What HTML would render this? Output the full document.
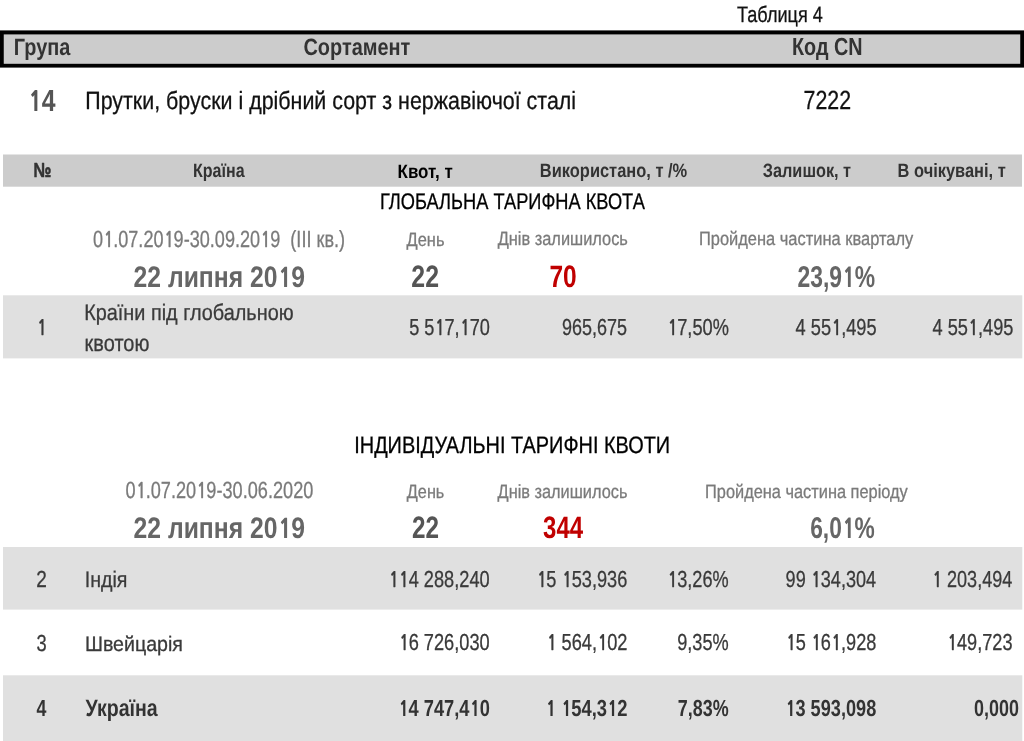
<!DOCTYPE html>
<html lang="uk"><head><meta charset="utf-8"><title>Таблиця 4</title>
<style>
html,body{margin:0;padding:0;background:#fff;}
body{width:1024px;height:741px;overflow:hidden;}
svg{display:block;will-change:transform;}
text{font-family:"Liberation Sans","DejaVu Sans",sans-serif;white-space:pre;text-rendering:geometricPrecision;}
tspan.n,tspan.nb{font-family:"NanumGothic","Liberation Sans",sans-serif;font-weight:700;}
tspan.nb{font-weight:800;}
</style></head><body>
<svg width="1024" height="741" viewBox="0 0 1024 741">
<rect x="0" y="30.4" width="1024" height="37.2" fill="#000"/>
<rect x="3.75" y="34.4" width="1016.5" height="29.4" fill="#cccccc"/>
<rect x="3" y="154.5" width="1019" height="32.2" fill="#cccccc"/>
<rect x="3" y="295.3" width="1019.3" height="63.1" fill="#e0e0e0"/>
<rect x="3" y="547.0" width="1019.3" height="62.6" fill="#e0e0e0"/>
<rect x="3" y="675.3" width="1019.3" height="66" fill="#e0e0e0"/>
<text transform="matrix(0.8099 0 0 1 737.06 21.55)" font-size="22.35" fill="#111" stroke="#111" stroke-width="0.3" stroke-linejoin="round">Таблиця 4</text>
<text transform="matrix(0.8478 0 0 1 13.70 54.90)" font-size="23.49" font-weight="bold" fill="#333">Група</text>
<text transform="matrix(0.8487 0 0 1 303.40 54.90)" font-size="23.49" font-weight="bold" fill="#333">Сортамент</text>
<text transform="matrix(0.8041 0 0 1 792.01 54.60)" font-size="24.60" font-weight="bold" fill="#333">Код CN</text>
<text transform="matrix(0.8083 0 0 1 28.00 111.25)" font-size="30.60" font-weight="bold" fill="#555"><tspan class="nb" font-size="27.13" dx="1.07">1</tspan><tspan dx="-0.50">4</tspan></text>
<text transform="matrix(0.8558 0 0 1 85.31 109.25)" font-size="25.02" fill="#111" stroke="#111" stroke-width="0.3" stroke-linejoin="round">Прутки, бруски і дрібний сорт з нержавіючої сталі</text>
<text transform="matrix(0.8152 0 0 1 803.55 109.15)" font-size="26.20" fill="#111" stroke="#111" stroke-width="0.3" stroke-linejoin="round">7222</text>
<text transform="matrix(0.7900 0 0 1 33.44 177.10)" font-size="20.30" font-weight="bold" fill="#333" stroke="#333" stroke-width="0.6" stroke-linejoin="round">№</text>
<text transform="matrix(0.8276 0 0 1 192.94 177.30)" font-size="19.39" font-weight="bold" fill="#333">Країна</text>
<text transform="matrix(0.8748 0 0 1 397.58 177.50)" font-size="19.39" font-weight="bold" fill="#000">Квот, т</text>
<text transform="matrix(0.8484 0 0 1 539.81 177.40)" font-size="19.39" font-weight="bold" fill="#333">Використано, т /%</text>
<text transform="matrix(0.8404 0 0 1 762.77 177.40)" font-size="19.39" font-weight="bold" fill="#333">Залишок, т</text>
<text transform="matrix(0.8475 0 0 1 897.61 177.30)" font-size="19.39" font-weight="bold" fill="#333">В очікувані, т</text>
<text transform="matrix(0.8053 0 0 1 379.91 209.35)" font-size="22.67" fill="#000" stroke="#000" stroke-width="0.3" stroke-linejoin="round">ГЛОБАЛЬНА ТАРИФНА КВОТА</text>
<text transform="matrix(0.7737 0 0 1 93.08 246.85)" font-size="23.40" fill="#7a7a7a" stroke="#7a7a7a" stroke-width="0.3" stroke-linejoin="round">0<tspan class="n" font-size="21.18" dx="0.82">1</tspan><tspan dx="-0.65">.07.20</tspan><tspan class="n" font-size="21.18" dx="0.82">1</tspan><tspan dx="-0.65">9-30.09.20</tspan><tspan class="n" font-size="21.18" dx="0.82">1</tspan><tspan dx="-0.65">9  (III кв.)</tspan></text>
<text transform="matrix(0.8610 0 0 1 406.52 245.65)" font-size="19.10" fill="#7a7a7a" stroke="#7a7a7a" stroke-width="0.3" stroke-linejoin="round">День</text>
<text transform="matrix(0.8576 0 0 1 497.72 245.45)" font-size="19.10" fill="#7a7a7a" stroke="#7a7a7a" stroke-width="0.3" stroke-linejoin="round">Днів залишилось</text>
<text transform="matrix(0.8618 0 0 1 698.90 245.45)" font-size="19.10" fill="#7a7a7a" stroke="#7a7a7a" stroke-width="0.3" stroke-linejoin="round">Пройдена частина кварталу</text>
<text transform="matrix(0.8351 0 0 1 133.56 286.70)" font-size="29.61" font-weight="bold" fill="#666">22 липня 20<tspan class="nb" font-size="26.25" dx="1.04">1</tspan><tspan dx="-0.48">9</tspan></text>
<text transform="matrix(0.8017 0 0 1 411.35 286.90)" font-size="31.00" font-weight="bold" fill="#555">22</text>
<text transform="matrix(0.7908 0 0 1 549.42 286.90)" font-size="31.00" font-weight="bold" fill="#c00000">70</text>
<text transform="matrix(0.7608 0 0 1 797.51 286.70)" font-size="30.09" font-weight="bold" fill="#666">23,9<tspan class="nb" font-size="26.68" dx="1.05">1</tspan><tspan dx="-0.49">%</tspan></text>
<text transform="matrix(0.8000 0 0 1 36.47 334.75)" font-size="23.20" fill="#3a3a3a" stroke="#3a3a3a" stroke-width="0.3" stroke-linejoin="round"><tspan class="n" font-size="21.00" dx="0.81">1</tspan></text>
<text transform="matrix(0.8825 0 0 1 84.23 319.85)" font-size="22.49" fill="#3a3a3a" stroke="#3a3a3a" stroke-width="0.3" stroke-linejoin="round">Країни під глобальною</text>
<text transform="matrix(0.8637 0 0 1 84.62 350.95)" font-size="23.11" fill="#3a3a3a" stroke="#3a3a3a" stroke-width="0.3" stroke-linejoin="round">квотою</text>
<text transform="matrix(0.7824 0 0 1 409.19 334.75)" font-size="23.20" fill="#3a3a3a" stroke="#3a3a3a" stroke-width="0.3" stroke-linejoin="round">5 5<tspan class="n" font-size="21.00" dx="0.81">1</tspan><tspan dx="-0.64">7,</tspan><tspan class="n" font-size="21.00" dx="0.81">1</tspan><tspan dx="-0.64">70</tspan></text>
<text transform="matrix(0.7754 0 0 1 562.00 334.75)" font-size="23.20" fill="#3a3a3a" stroke="#3a3a3a" stroke-width="0.3" stroke-linejoin="round">965,675</text>
<text transform="matrix(0.7864 0 0 1 667.04 334.75)" font-size="23.20" fill="#3a3a3a" stroke="#3a3a3a" stroke-width="0.3" stroke-linejoin="round"><tspan class="n" font-size="21.00" dx="0.81">1</tspan><tspan dx="-0.64">7,50%</tspan></text>
<text transform="matrix(0.7857 0 0 1 795.56 334.75)" font-size="23.20" fill="#3a3a3a" stroke="#3a3a3a" stroke-width="0.3" stroke-linejoin="round">4 55<tspan class="n" font-size="21.00" dx="0.81">1</tspan><tspan dx="-0.64">,495</tspan></text>
<text transform="matrix(0.7847 0 0 1 932.46 334.75)" font-size="23.20" fill="#3a3a3a" stroke="#3a3a3a" stroke-width="0.3" stroke-linejoin="round">4 55<tspan class="n" font-size="21.00" dx="0.81">1</tspan><tspan dx="-0.64">,495</tspan></text>
<text transform="matrix(0.8382 0 0 1 354.23 452.70)" font-size="23.76" fill="#000" stroke="#000" stroke-width="0.3" stroke-linejoin="round">ІНДИВІДУАЛЬНІ ТАРИФНІ КВОТИ</text>
<text transform="matrix(0.7767 0 0 1 125.47 498.15)" font-size="23.40" fill="#7a7a7a" stroke="#7a7a7a" stroke-width="0.3" stroke-linejoin="round">0<tspan class="n" font-size="21.18" dx="0.82">1</tspan><tspan dx="-0.65">.07.20</tspan><tspan class="n" font-size="21.18" dx="0.82">1</tspan><tspan dx="-0.65">9-30.06.2020</tspan></text>
<text transform="matrix(0.8518 0 0 1 406.82 497.95)" font-size="19.10" fill="#7a7a7a" stroke="#7a7a7a" stroke-width="0.3" stroke-linejoin="round">День</text>
<text transform="matrix(0.8550 0 0 1 497.62 497.85)" font-size="19.10" fill="#7a7a7a" stroke="#7a7a7a" stroke-width="0.3" stroke-linejoin="round">Днів залишилось</text>
<text transform="matrix(0.8573 0 0 1 705.01 497.65)" font-size="19.10" fill="#7a7a7a" stroke="#7a7a7a" stroke-width="0.3" stroke-linejoin="round">Пройдена частина періоду</text>
<text transform="matrix(0.8351 0 0 1 133.56 538.10)" font-size="29.61" font-weight="bold" fill="#666">22 липня 20<tspan class="nb" font-size="26.25" dx="1.04">1</tspan><tspan dx="-0.48">9</tspan></text>
<text transform="matrix(0.7832 0 0 1 411.97 538.30)" font-size="31.00" font-weight="bold" fill="#555">22</text>
<text transform="matrix(0.7731 0 0 1 543.12 538.30)" font-size="31.00" font-weight="bold" fill="#c00000">344</text>
<text transform="matrix(0.7600 0 0 1 810.22 538.10)" font-size="29.94" font-weight="bold" fill="#666">6,0<tspan class="nb" font-size="26.55" dx="1.05">1</tspan><tspan dx="-0.49">%</tspan></text>
<text transform="matrix(0.8208 0 0 1 36.37 586.55)" font-size="23.20" fill="#3a3a3a" stroke="#3a3a3a" stroke-width="0.3" stroke-linejoin="round">2</text>
<text transform="matrix(0.8728 0 0 1 84.75 586.65)" font-size="22.49" fill="#3a3a3a" stroke="#3a3a3a" stroke-width="0.3" stroke-linejoin="round">Індія</text>
<text transform="matrix(0.7852 0 0 1 388.44 586.55)" font-size="23.20" fill="#3a3a3a" stroke="#3a3a3a" stroke-width="0.3" stroke-linejoin="round"><tspan class="n" font-size="21.00" dx="0.81">11</tspan><tspan dx="-0.47">4 288,240</tspan></text>
<text transform="matrix(0.7846 0 0 1 536.25 586.55)" font-size="23.20" fill="#3a3a3a" stroke="#3a3a3a" stroke-width="0.3" stroke-linejoin="round"><tspan class="n" font-size="21.00" dx="0.81">1</tspan><tspan dx="-0.64">5 </tspan><tspan class="n" font-size="21.00" dx="0.81">1</tspan><tspan dx="-0.64">53,936</tspan></text>
<text transform="matrix(0.7824 0 0 1 667.15 586.55)" font-size="23.20" fill="#3a3a3a" stroke="#3a3a3a" stroke-width="0.3" stroke-linejoin="round"><tspan class="n" font-size="21.00" dx="0.81">1</tspan><tspan dx="-0.64">3,26%</tspan></text>
<text transform="matrix(0.7799 0 0 1 785.60 586.55)" font-size="23.20" fill="#3a3a3a" stroke="#3a3a3a" stroke-width="0.3" stroke-linejoin="round">99 <tspan class="n" font-size="21.00" dx="0.81">1</tspan><tspan dx="-0.64">34,304</tspan></text>
<text transform="matrix(0.7790 0 0 1 931.96 586.55)" font-size="23.20" fill="#3a3a3a" stroke="#3a3a3a" stroke-width="0.3" stroke-linejoin="round"><tspan class="n" font-size="21.00" dx="0.81">1</tspan><tspan dx="-0.64"> 203,494</tspan></text>
<text transform="matrix(0.7882 0 0 1 36.57 650.55)" font-size="23.20" fill="#3a3a3a" stroke="#3a3a3a" stroke-width="0.3" stroke-linejoin="round">3</text>
<text transform="matrix(0.9354 0 0 1 84.95 650.55)" font-size="20.96" fill="#3a3a3a" stroke="#3a3a3a" stroke-width="0.3" stroke-linejoin="round">Швейцарія</text>
<text transform="matrix(0.7854 0 0 1 398.54 650.35)" font-size="23.20" fill="#3a3a3a" stroke="#3a3a3a" stroke-width="0.3" stroke-linejoin="round"><tspan class="n" font-size="21.00" dx="0.81">1</tspan><tspan dx="-0.64">6 726,030</tspan></text>
<text transform="matrix(0.7866 0 0 1 546.34 650.35)" font-size="23.20" fill="#3a3a3a" stroke="#3a3a3a" stroke-width="0.3" stroke-linejoin="round"><tspan class="n" font-size="21.00" dx="0.81">1</tspan><tspan dx="-0.64"> 564,</tspan><tspan class="n" font-size="21.00" dx="0.81">1</tspan><tspan dx="-0.64">02</tspan></text>
<text transform="matrix(0.7831 0 0 1 677.19 650.35)" font-size="23.20" fill="#3a3a3a" stroke="#3a3a3a" stroke-width="0.3" stroke-linejoin="round">9,35%</text>
<text transform="matrix(0.7820 0 0 1 785.55 650.35)" font-size="23.20" fill="#3a3a3a" stroke="#3a3a3a" stroke-width="0.3" stroke-linejoin="round"><tspan class="n" font-size="21.00" dx="0.81">1</tspan><tspan dx="-0.64">5 </tspan><tspan class="n" font-size="21.00" dx="0.81">1</tspan><tspan dx="-0.64">6</tspan><tspan class="n" font-size="21.00" dx="0.81">1</tspan><tspan dx="-0.64">,928</tspan></text>
<text transform="matrix(0.7821 0 0 1 946.95 650.35)" font-size="23.20" fill="#3a3a3a" stroke="#3a3a3a" stroke-width="0.3" stroke-linejoin="round"><tspan class="n" font-size="21.00" dx="0.81">1</tspan><tspan dx="-0.64">49,723</tspan></text>
<text transform="matrix(0.7680 0 0 1 36.42 715.70)" font-size="23.20" font-weight="bold" fill="#333">4</text>
<text transform="matrix(0.8240 0 0 1 85.50 716.40)" font-size="23.74" font-weight="bold" fill="#333">Україна</text>
<text transform="matrix(0.7879 0 0 1 398.38 715.90)" font-size="23.20" font-weight="bold" fill="#333"><tspan class="nb" font-size="20.57" dx="0.81">1</tspan><tspan dx="-0.38">4 747,4</tspan><tspan class="nb" font-size="20.57" dx="0.81">1</tspan><tspan dx="-0.38">0</tspan></text>
<text transform="matrix(0.7927 0 0 1 545.67 715.90)" font-size="23.20" font-weight="bold" fill="#333"><tspan class="nb" font-size="20.57" dx="0.81">1</tspan><tspan dx="-0.38"> </tspan><tspan class="nb" font-size="20.57" dx="0.81">1</tspan><tspan dx="-0.38">54,3</tspan><tspan class="nb" font-size="20.57" dx="0.81">1</tspan><tspan dx="-0.38">2</tspan></text>
<text transform="matrix(0.7732 0 0 1 677.78 715.90)" font-size="23.20" font-weight="bold" fill="#333">7,83%</text>
<text transform="matrix(0.7827 0 0 1 785.39 715.90)" font-size="23.20" font-weight="bold" fill="#333"><tspan class="nb" font-size="20.57" dx="0.81">1</tspan><tspan dx="-0.38">3 593,098</tspan></text>
<text transform="matrix(0.7732 0 0 1 974.06 715.90)" font-size="23.20" font-weight="bold" fill="#333">0,000</text>
</svg>
</body></html>
